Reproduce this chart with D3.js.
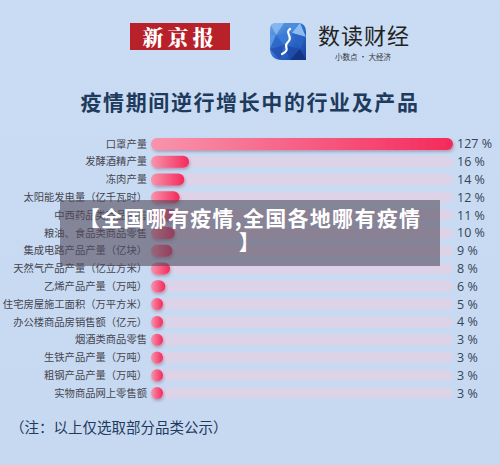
<!DOCTYPE html>
<html>
<head>
<meta charset="utf-8">
<script src="https://cdn.jsdelivr.net/npm/d3@7"></script>
<style>
  html, body { margin: 0; padding: 0; background: #c9dbf2; }
  svg { display: block; }
</style>
</head>
<body>
<div id="chart"></div>
<script>
// categories and growth rates (%)
const categories = [
    '口罩产量',
    '发酵酒精产量',
    '冻肉产量',
    '太阳能发电量（亿千瓦时）',
    '中西药品类商品零售',
    '粮油、食品类商品零售',
    '集成电路产品产量（亿块）',
    '天然气产品产量（亿立方米）',
    '乙烯产品产量（万吨）',
    '住宅房屋施工面积（万平方米）',
    '办公楼商品房销售额（亿元）',
    '烟酒类商品零售',
    '生铁产品产量（万吨）',
    '粗钢产品产量（万吨）',
    '实物商品网上零售额'
];
const growth = [127, 16, 14, 12, 11, 10, 9, 8, 6, 5, 4, 3, 3, 3, 3];

const title = '疫情期间逆行增长中的行业及产品';
const note = '（注：以上仅选取部分品类公示）';
const overlayLines = ['【全国哪有疫情,全国各地哪有疫情', '】'];

const width = 500, height = 465;
const cjk = '"Noto Sans CJK SC", "Noto Sans", sans-serif';

const svg = d3.select('#chart').append('svg')
    .attr('width', width)
    .attr('height', height);

const defs = svg.append('defs');

// background
const bg = defs.append('linearGradient').attr('id', 'bg')
    .attr('x1', 0).attr('y1', 0).attr('x2', 0).attr('y2', 1);
bg.append('stop').attr('offset', 0).attr('stop-color', '#cadcf3');
bg.append('stop').attr('offset', 1).attr('stop-color', '#c7d9f1');
svg.append('rect').attr('width', width).attr('height', height).attr('fill', 'url(#bg)');

// bar gradient + shadow
const barGrad = defs.append('linearGradient').attr('id', 'barGrad')
    .attr('x1', 0).attr('y1', 0).attr('x2', 1).attr('y2', 0);
barGrad.append('stop').attr('offset', 0).attr('stop-color', '#f894ad');
barGrad.append('stop').attr('offset', 1).attr('stop-color', '#f42a5b');

const shadow = defs.append('filter').attr('id', 'shadow')
    .attr('x', '-20%').attr('y', '-60%').attr('width', '140%').attr('height', '240%');
shadow.append('feDropShadow')
    .attr('dx', 1).attr('dy', 2).attr('stdDeviation', 1.6)
    .attr('flood-color', '#7a2a50').attr('flood-opacity', 0.35);

// ### header logos ###
const hdr = svg.append('g');
hdr.append('rect')
    .attr('x', 130).attr('y', 23).attr('width', 100).attr('height', 27)
    .attr('fill', '#b8202a');
hdr.append('text')
    .attr('x', 180).attr('y', 45)
    .attr('text-anchor', 'middle')
    .attr('fill', '#fff')
    .style('font-family', '"Noto Serif CJK SC", "Noto Sans CJK SC", serif')
    .style('font-weight', 900)
    .style('font-size', '21px')
    .style('letter-spacing', '4px')
    .text('新京报');

// 数读财经 icon: faceted blue leaf with a white wavy stroke
const icon = hdr.append('g').attr('transform', 'translate(270,23)');
const iconGrad = defs.append('linearGradient').attr('id', 'iconGrad')
    .attr('x1', 0).attr('y1', 0).attr('x2', 1).attr('y2', 1);
iconGrad.append('stop').attr('offset', 0).attr('stop-color', '#6aa5e8');
iconGrad.append('stop').attr('offset', 0.5).attr('stop-color', '#2f6fcf');
iconGrad.append('stop').attr('offset', 1).attr('stop-color', '#163c96');
defs.append('clipPath').attr('id', 'iconClip')
    .append('path').attr('d', 'M0,6 Q0,0 6,0 L28,0 Q36,0 36,9 L36,37 L12,37 Q0,37 0,25 Z');
icon.append('path')
    .attr('d', 'M0,6 Q0,0 6,0 L28,0 Q36,0 36,9 L36,37 L12,37 Q0,37 0,25 Z')
    .attr('fill', 'url(#iconGrad)');
const facets = [
    ['0,0 14,0 6,12', '#8bbcf0'], ['14,0 30,0 22,10', '#4d8ee0'],
    ['30,0 36,14 22,10', '#9fcaf5'], ['6,12 22,10 14,22', '#3a7bd6'],
    ['0,12 6,12 0,26', '#5e9ae6'], ['22,10 36,14 30,26', '#2a62c4'],
    ['6,12 14,22 0,26', '#2c66c8'], ['14,22 30,26 20,37', '#1d4aa8'],
    ['30,26 36,37 20,37', '#12307f'], ['0,26 14,22 10,37', '#244fae']
];
icon.append('g').attr('clip-path', 'url(#iconClip)')
    .selectAll('polygon')
    .data(facets)
    .enter()
    .append('polygon')
        .attr('points', d => d[0])
        .attr('fill', d => d[1])
        .attr('opacity', 0.85);
icon.append('path')
    .attr('d', 'M20,6 C14,10 24,14 18,19 C12,24 22,26 12,31')
    .attr('fill', 'none')
    .attr('stroke', '#fff')
    .attr('stroke-width', 2.2)
    .attr('stroke-linecap', 'round');

hdr.append('text')
    .attr('x', 318).attr('y', 44)
    .attr('fill', '#222')
    .style('font-family', cjk)
    .style('font-size', '22px')
    .style('letter-spacing', '1px')
    .text('数读财经');
hdr.append('text')
    .attr('x', 363).attr('y', 60)
    .attr('text-anchor', 'middle')
    .attr('fill', '#333')
    .style('font-family', cjk)
    .style('font-size', '7.5px')
    .text('小数点 · 大经济');

// title
svg.append('text')
    .attr('x', 250).attr('y', 110)
    .attr('text-anchor', 'middle')
    .attr('fill', '#1e3a5c')
    .style('font-family', cjk)
    .style('font-weight', 700)
    .style('font-size', '21px')
    .style('letter-spacing', '1.6px')
    .text(title);

// ### bars ###
const barLeft = 151, trackRight = 453;
const x = d3.scaleLinear()
    .domain([0, d3.max(growth)])
    .range([0, trackRight - barLeft]);
const y = d3.scaleBand()
    .domain(categories)
    .range([135, 135 + 17.8 * categories.length])
    .padding(0);

const barH = 12, trackH = 11;
const rows = svg.append('g').selectAll('g')
    .data(categories.map((c, i) => ({cat: c, v: growth[i]})))
    .enter()
    .append('g')
        .attr('transform', d => `translate(0, ${y(d.cat) + y.bandwidth() / 2})`);

// track
rows.append('rect')
    .attr('x', barLeft).attr('y', -trackH / 2)
    .attr('width', trackRight - barLeft).attr('height', trackH)
    .attr('rx', trackH / 2)
    .attr('fill', '#dcd3e8');

// value bar
rows.append('rect')
    .attr('x', barLeft).attr('y', -barH / 2)
    .attr('width', d => Math.max(x(d.v), barH))
    .attr('height', barH)
    .attr('rx', barH / 2)
    .attr('fill', 'url(#barGrad)')
    .attr('filter', 'url(#shadow)');

// category labels
rows.append('text')
    .attr('x', 147).attr('y', 0)
    .attr('dy', '0.36em')
    .attr('text-anchor', 'end')
    .attr('fill', '#45454f')
    .style('font-family', cjk)
    .style('font-size', '10.3px')
    .text(d => d.cat);

// value labels
rows.append('text')
    .attr('x', 457).attr('y', 0)
    .attr('dy', '0.36em')
    .attr('fill', '#364355')
    .style('font-family', '"Open Sans", "DejaVu Sans", sans-serif')
    .style('font-size', '12.5px')
    .text(d => `${d.v} %`);

// footnote
svg.append('text')
    .attr('x', 10).attr('y', 433)
    .attr('fill', '#1e3a5c')
    .style('font-family', cjk)
    .style('font-size', '14.5px')
    .text(note);

// ### caption overlay ###
svg.append('rect')
    .attr('x', 60).attr('y', 200)
    .attr('width', 380).attr('height', 66)
    .attr('fill', 'rgb(85,75,92)')
    .attr('opacity', 0.6);
svg.append('g').selectAll('text')
    .data(overlayLines)
    .enter()
    .append('text')
        .attr('x', 250)
        .attr('y', (d, i) => 226 + i * 24)
        .attr('text-anchor', 'middle')
        .attr('fill', '#fff')
        .style('font-family', cjk)
        .style('font-weight', 700)
        .style('font-size', '21px')
        .style('letter-spacing', '1.3px')
        .text(d => d);
</script>
</body>
</html>
